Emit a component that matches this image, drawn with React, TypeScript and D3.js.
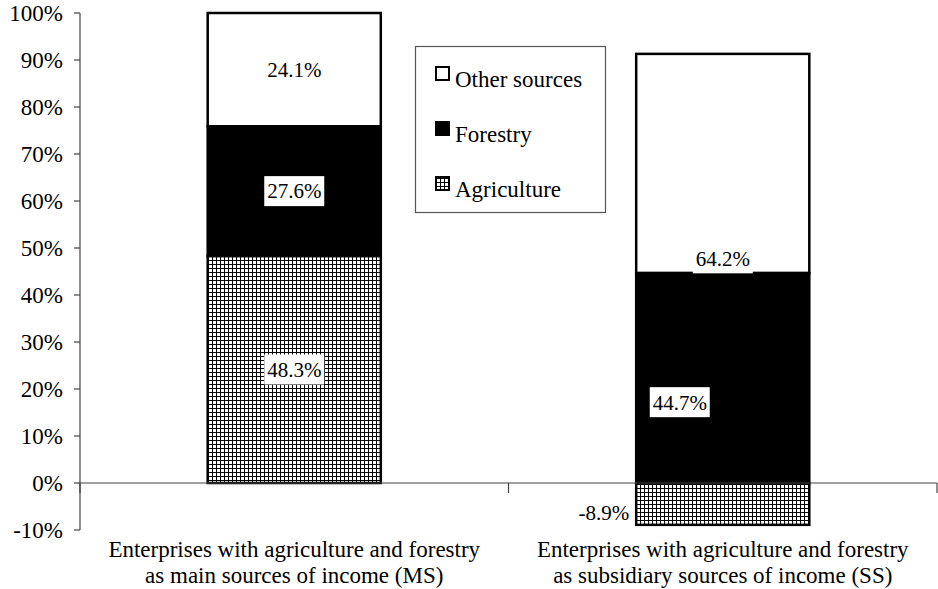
import React from "react";
import * as d3 from "d3";

const categories = ["MS", "SS"];
const categoryLines = [
  ["Enterprises with agriculture and forestry", "as main sources of income (MS)"],
  ["Enterprises with agriculture and forestry", "as subsidiary sources of income (SS)"],
];
const seriesNames = ["Agriculture", "Forestry", "Other sources"];
const agriculture = [48.3, -8.9];
const forestry = [27.6, 44.7];
const otherSources = [24.1, 46.6]; // drawn heights (SS top reaches ~91%)
const agricultureLabels = ["48.3%", "-8.9%"];
const forestryLabels = ["27.6%", "44.7%"];
const otherLabels = ["24.1%", "64.2%"];
// label anchor values (in % units)
const agricultureLabelAt = [24.15, -6.4];
const forestryLabelAt = [62.1, 17.2];
const otherLabelAt = [87.95, 47.8];
const yTicks = [-10, 0, 10, 20, 30, 40, 50, 60, 70, 80, 90, 100];

const W = 938;
const H = 589;
const FONT = "Liberation Serif, DejaVu Serif, Times New Roman, serif";

export default function App() {
  const y = d3.scaleLinear().domain([-10, 100]).range([530, 13]);
  const x = d3
    .scaleBand<string>()
    .domain(categories)
    .range([80, 937])
    .paddingInner(0.596)
    .paddingOuter(0.298);
  const xb = d3.scaleBand<string>().domain(categories).range([80, 937]).padding(0);
  const bw = x.bandwidth();

  type Seg = { cat: string; y0: number; y1: number; fill: string; label: string; at: number; dx: number; anchor: string; box: boolean };
  const segs: Seg[] = [];
  categories.forEach((c, i) => {
    const a = agriculture[i];
    const f = forestry[i];
    const o = otherSources[i];
    const fBase = a >= 0 ? a : 0;
    const fTop = fBase + f;
    const oTop = fTop + o;
    segs.push({ cat: c, y0: 0, y1: a, fill: "url(#grid)", label: agricultureLabels[i], at: agricultureLabelAt[i], dx: a < 0 ? -bw / 2 - 7 : 0, anchor: a < 0 ? "end" : "middle", box: a >= 0 });
    segs.push({ cat: c, y0: fBase, y1: fTop, fill: "#000", label: forestryLabels[i], at: forestryLabelAt[i], dx: i === 1 ? -43 : 0, anchor: "middle", box: true });
    segs.push({ cat: c, y0: fTop, y1: oTop, fill: "#fff", label: otherLabels[i], at: otherLabelAt[i], dx: 0, anchor: "middle", box: true });
  });

  const labelFont = 21;
  const labelW = 60;
  const labelH = 30;

  const legendItems = [
    { name: seriesNames[2], fill: "#fff" },
    { name: seriesNames[1], fill: "#000" },
    { name: seriesNames[0], fill: "url(#grid)" },
  ];

  const txt = { fontFamily: FONT, fill: "#000" } as React.CSSProperties;

  return (
    <svg width={W} height={H} style={{ position: "absolute", left: 0, top: 0, background: "#fff" }}>
      <defs>
        <pattern id="grid" width={4} height={4} patternUnits="userSpaceOnUse">
          <rect width={4} height={4} fill="#fff" />
          <path d="M0 0.5H4M0.5 0V4" stroke="#000" strokeWidth={1} />
        </pattern>
      </defs>
      <rect width={W} height={H} fill="#fff" />

      {segs.map((s, k) => {
        const x0 = x(s.cat)!;
        const top = y(Math.max(s.y0, s.y1));
        const bot = y(Math.min(s.y0, s.y1));
        return (
          <rect key={"b" + k} x={x0} y={top} width={bw} height={bot - top} fill={s.fill} stroke="#000" strokeWidth={2.5} />
        );
      })}

      <line x1={80} x2={80} y1={y(100)} y2={y(-10)} stroke="#444" strokeWidth={1.2} />
      {yTicks.map((t) => (
        <g key={"t" + t}>
          <line x1={74} x2={80} y1={y(t)} y2={y(t)} stroke="#444" strokeWidth={1.2} />
          <text x={63} y={y(t)} dy="0.35em" textAnchor="end" fontSize={23} style={txt}>
            {t}%
          </text>
        </g>
      ))}
      <line x1={80} x2={937} y1={y(0)} y2={y(0)} stroke="#444" strokeWidth={1.2} />
      {[...categories.map((c) => xb(c)!), 937].map((px, k) => (
        <line key={"c" + k} x1={px} x2={px} y1={y(0)} y2={y(0) + 10} stroke="#444" strokeWidth={1.2} />
      ))}

      {segs.map((s, k) => {
        const cx = x(s.cat)! + bw / 2 + s.dx;
        const cy = y(s.at);
        return (
          <g key={"l" + k}>
            {s.box && <rect x={cx - labelW / 2} y={cy - labelH / 2} width={labelW} height={labelH} fill="#fff" />}
            <text x={cx} y={cy} dy="0.35em" textAnchor={s.anchor as any} fontSize={labelFont} style={txt}>
              {s.label}
            </text>
          </g>
        );
      })}

      {categories.map((c, i) => {
        const cx = xb(c)! + xb.bandwidth() / 2;
        return (
          <text key={"cat" + c} x={cx} textAnchor="middle" fontSize={23} style={txt}>
            <tspan x={cx} y={557}>{categoryLines[i][0]}</tspan>
            <tspan x={cx} y={583}>{categoryLines[i][1]}</tspan>
          </text>
        );
      })}

      <rect x={415.5} y={46.5} width={190} height={166} fill="#fff" stroke="#555" strokeWidth={1.2} />
      {legendItems.map((it, i) => (
        <g key={"lg" + i} transform={`translate(0, ${i * 55})`}>
          <rect x={436} y={67} width={13} height={13} fill={it.fill} stroke="#000" strokeWidth={2} />
          <text x={455} y={87} fontSize={23} style={txt}>
            {it.name}
          </text>
        </g>
      ))}
    </svg>
  );
}
